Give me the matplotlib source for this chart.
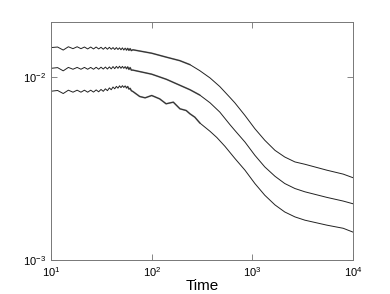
import matplotlib
matplotlib.use("Agg")
import matplotlib.pyplot as plt
from matplotlib.ticker import NullLocator
import numpy as np

plt.rcParams['font.family'] = ['Liberation Sans', 'DejaVu Sans']
plt.rcParams['mathtext.default'] = 'regular'

# early part of each curve: the small ripples (peaks and dips)
t_wig = [10, 11.6, 13.2, 14.85, 16.5, 18.15, 19.8, 21.45, 23.1, 24.75, 26.4,
         28.05, 29.7, 31.35, 33, 34.65, 36.3, 37.95, 39.6, 41.25, 42.9, 44.55,
         46.2, 47.85, 49.5, 51.15, 52.8, 54.45, 56.1, 57.75, 59.4, 61.05, 62.7]

top_wig = [14.55, 14.65, 14.1, 14.7, 14.35, 14.7, 14.35, 14.65, 14.3, 14.65, 14.3,
           14.65, 14.3, 14.6, 14.25, 14.6, 14.25, 14.6, 14.25, 14.55, 14.2, 14.55,
           14.2, 14.5, 14.15, 14.5, 14.1, 14.45, 14.1, 14.4, 14.05, 14.35, 14.0]
mid_wig = [11.2, 11.3, 10.85, 11.33, 11.07, 11.33, 11.07, 11.33, 11.07, 11.33, 11.07,
           11.35, 11.08, 11.36, 11.1, 11.38, 11.1, 11.4, 11.12, 11.45, 11.15, 11.48,
           11.2, 11.5, 11.2, 11.48, 11.2, 11.45, 11.15, 11.4, 11.05, 11.3, 10.95]
bot_wig = [8.39, 8.47, 8.15, 8.5, 8.29, 8.5, 8.29, 8.5, 8.29, 8.5, 8.3,
           8.53, 8.33, 8.58, 8.38, 8.65, 8.45, 8.75, 8.55, 8.85, 8.65, 8.92,
           8.72, 8.98, 8.78, 9.0, 8.8, 8.98, 8.75, 8.9, 8.62, 8.7, 8.45]

# later, smooth part (values in units of 1e-3)
t_tail = [65, 100, 140, 190, 240, 300, 380, 475, 600, 670, 845, 1060, 1330,
          1680, 2100, 2650, 3330, 5500, 8000, 10000]
top_tail = [14.15, 13.55, 12.89, 12.34, 11.73, 10.88, 9.92, 8.90, 7.75, 7.25, 6.18,
            5.23, 4.52, 3.98, 3.66, 3.44, 3.34, 3.10, 2.95, 2.82]
mid_tail = [10.95, 10.4, 9.75, 9.05, 8.55, 8.0, 7.25, 6.45, 5.5, 5.12, 4.42,
            3.74, 3.23, 2.87, 2.62, 2.46, 2.36, 2.20, 2.10, 2.03]

t_bot_tail = [65, 76, 86, 100, 120, 139, 164, 191, 220, 240, 268, 302, 380, 444,
              534, 672, 845, 1060, 1330, 1680, 2100, 2650, 3330, 5500, 8000, 10000]
bot_tail = [8.36, 7.85, 7.72, 7.95, 7.62, 7.16, 7.31, 6.72, 6.58, 6.31, 6.05, 5.61,
            5.06, 4.68, 4.19, 3.59, 3.10, 2.62, 2.26, 2.00, 1.83, 1.72, 1.65, 1.55,
            1.49, 1.42]

curves = [
    (t_wig + t_tail, top_wig + top_tail, 240),
    (t_wig + t_tail, mid_wig + mid_tail, 300),
    (t_wig + t_bot_tail, bot_wig + bot_tail, 302),
]

fig = plt.figure(figsize=(3.9, 2.94), dpi=100)
ax = fig.add_axes([0.131, 0.116, 0.774, 0.808])

for t, v, t_fuzz in curves:
    t = np.array(t, dtype=float)
    v = np.array(v) * 1e-3
    ax.plot(t, v, color='#222222', lw=0.7)
    # the dense ripples look like a slightly heavier line in this range
    m = (t >= 55) & (t <= t_fuzz)
    ax.plot(t[m], v[m], color='#333333', lw=1.2, alpha=0.55,
            solid_capstyle='round')

ax.set_xscale('log')
ax.set_yscale('log')
ax.set_xlim(10, 1e4)
ax.set_ylim(1e-3, 2e-2)
ax.set_xticks([10, 100, 1000, 10000])
ax.set_yticks([1e-3, 1e-2])
ax.xaxis.set_minor_locator(NullLocator())
ax.yaxis.set_minor_locator(NullLocator())
ax.tick_params(direction='in', top=True, right=True, length=4, width=0.5,
               labelsize=8, color='#555555', pad=4)
for s in ax.spines.values():
    s.set_color('#777777')
    s.set_linewidth(0.7)
ax.set_xlabel('Time', fontsize=11, labelpad=0)

fig.savefig('out.png', dpi=100)
